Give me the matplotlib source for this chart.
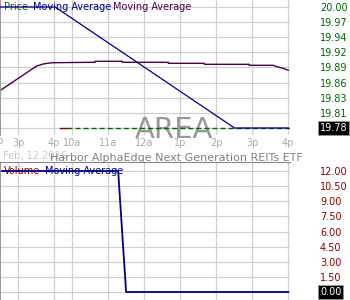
import matplotlib
matplotlib.use('Agg')
import matplotlib.pyplot as plt
import matplotlib.transforms as mtransforms

# x positions are trading hours, 0 = prev close 4p / today's 9:30 open
hour_ticks = [-1, 0, 0.5, 1.5, 2.5, 3.5, 4.5, 5.5, 6.5]
hour_labels = ['3p', '4p', '10a', '11a', '12a', '1p', '2p', '3p', '4p']

price_ticks = [20.00, 19.9725, 19.945, 19.9175, 19.89, 19.8625, 19.835, 19.8075, 19.78]
price_labels = ['20.00', '19.97', '19.94', '19.92', '19.89', '19.86', '19.83', '19.81', '19.78']
vol_ticks = [12.0, 10.5, 9.0, 7.5, 6.0, 4.5, 3.0, 1.5, 0.0]
vol_labels = ['12.00', '10.50', '9.00', '7.50', '6.00', '4.50', '3.00', '1.50', '0.00']

# price (flat, no trades), first bit down-coloured
price_t = [0.17, 0.36, 6.55]
price_v = [19.78, 19.78, 19.78]

ma1_t = [-1.5, 0.03, 5.01, 6.5]
ma1_v = [20.00, 20.00, 19.78, 19.78]

ma2_t = [-1.5, -0.58, -0.48, -0.30, -0.06, 1.14, 1.14, 1.89, 1.89, 3.17, 3.17,
         4.17, 4.17, 5.42, 5.42, 6.08, 6.19, 6.36, 6.5]
ma2_v = [19.848, 19.8885, 19.8927, 19.8964, 19.8987, 19.8995, 19.9013, 19.9013,
         19.8995, 19.8995, 19.8976, 19.8976, 19.8958, 19.8958, 19.894, 19.894,
         19.8915, 19.8885, 19.885]

vol_ma_t = [-1.5, 1.78, 2.0, 6.5]
vol_ma_v = [12.0, 12.0, 0.0, 0.0]

GREEN = '#006400'
NAVY = '#000080'
PURPLE = '#4a0046'
DRED = '#8b0000'
GRID = '#d0d0d0'

plt.rcParams['lines.scale_dashes'] = False

fig = plt.figure(figsize=(3.5, 3.0), dpi=100)
W, H = 350.0, 300.0

def px_axes(x0, y0, x1, y1):
    return fig.add_axes([x0 / W, 1 - y1 / H, (x1 - x0) / W, (y1 - y0) / H])

def label(a, x, y, s, color, **kw):
    # text placed in figure pixels but kept under the axes' lines
    a.text(x / W, 1 - y / H, s, transform=fig.transFigure, fontsize=7,
           color=color, va='center', zorder=1, clip_on=False, **kw)

ax = px_axes(0, 0, 290, 135)
axv = px_axes(0, 162, 290, 300)

for a in (ax, axv):
    a.set_xlim(-1.5, 6.55)
    a.set_xticks(hour_ticks)
    for s in ('top', 'right', 'bottom'):
        a.spines[s].set_visible(False)
    a.spines['left'].set_color('#999999')
    a.grid(True, color=GRID, linewidth=0.9)
    a.set_axisbelow(True)
    a.yaxis.tick_right()
    a.tick_params(axis='y', length=0, pad=21.6, labelsize=7)

ax.set_ylim(19.7673, 20.0127)
ax.set_yticks(price_ticks)
ax.set_yticklabels(price_labels[:-1] + [''], color=GREEN)
ax.set_xticklabels(hour_labels)
ax.tick_params(axis='x', length=0, pad=2, labelsize=7, labelcolor='#aaaaaa')

axv.set_ylim(-0.793, 12.893)
axv.set_yticks(vol_ticks)
axv.set_yticklabels(vol_labels[:-1] + [''], color=DRED)
axv.tick_params(axis='x', length=0, labelbottom=False)
axv.spines['top'].set_visible(True)
axv.spines['top'].set_color('#888888')

# watermark
ax.text(174 / W, 1 - 138 / H, 'AREA', transform=fig.transFigure, fontsize=21,
        color='#999999', ha='center', va='baseline', zorder=1, clip_on=False)

# legends (lines run through them)
label(ax, 4, 7, 'Price', GREEN)
label(ax, 33, 7, 'Moving Average', NAVY)
label(ax, 113, 7, 'Moving Average', PURPLE)
label(axv, 4, 171, 'Volume', DRED)
label(axv, 45, 171, 'Moving Average', NAVY)

# price panel lines
ax.plot(price_t[:2], price_v[:2], color=DRED, lw=1.0, zorder=2)
ax.plot(price_t[1:], price_v[1:], color=GREEN, lw=1.0, dashes=(3.6, 2.2), zorder=2)
ax.plot(ma2_t, ma2_v, color=PURPLE, lw=1.0, zorder=2)
ax.plot(ma1_t, ma1_v, color=NAVY, lw=0.9, zorder=3)

axv.plot(vol_ma_t, vol_ma_v, color=NAVY, lw=1.3, zorder=2)

# highlighted last values
for a, val, lab in ((ax, price_ticks[-1], price_labels[-1]),
                    (axv, vol_ticks[-1], vol_labels[-1])):
    tr = mtransforms.blended_transform_factory(a.transAxes, a.transData)
    a.text(1 + 30 / 290, val, lab, transform=tr, fontsize=7, color='white',
           ha='left', va='center', clip_on=False,
           bbox=dict(facecolor='black', edgecolor='#999999', pad=1.2, lw=0.6))

# clipped "2p" label at the left edge
fig.text(4 / W, 1 - 141 / H, '2p', fontsize=7, color='#aaaaaa', ha='right', va='center')

fig.text(3 / W, 1 - 158.5 / H, 'Feb, 12 2026', fontsize=7, color='#c8c8c8', va='baseline')
fig.text(176 / W, 1 - 161 / H, 'Harbor AlphaEdge Next Generation REITs ETF',
         fontsize=8, color='#808080', ha='center', va='baseline')

fig.savefig('out.png', dpi=100)
